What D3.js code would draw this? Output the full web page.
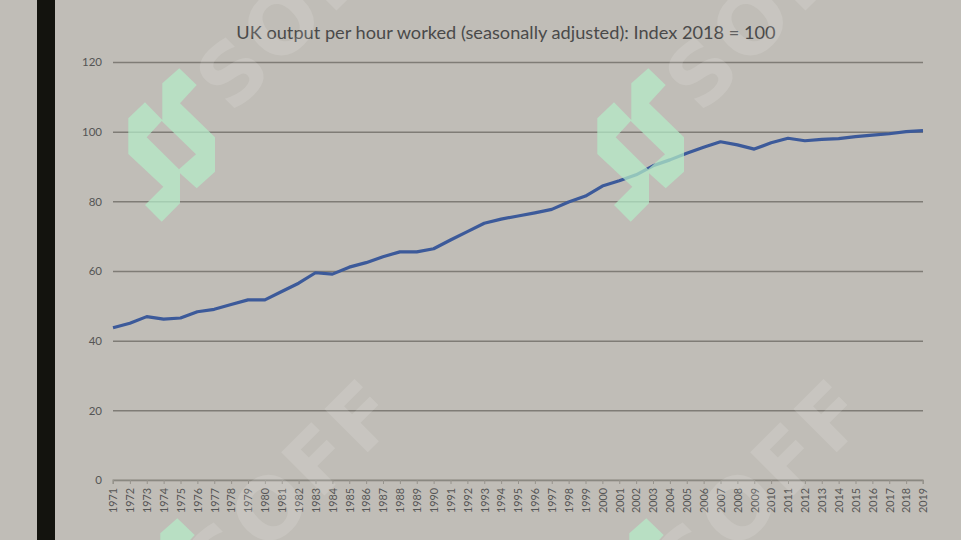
<!DOCTYPE html>
<html>
<head>
<meta charset="utf-8">
<script src="https://cdn.jsdelivr.net/npm/d3@7"></script>
<style>
  html, body { margin: 0; padding: 0; background: #c0bdb7; }
  svg { display: block; }
</style>
</head>
<body>
<svg id="chart" width="961" height="540"></svg>
<script>
const title = "UK output per hour worked (seasonally adjusted): Index 2018 = 100";
const years = [1971,1972,1973,1974,1975,1976,1977,1978,1979,1980,1981,1982,1983,1984,1985,1986,1987,1988,1989,1990,
  1991,1992,1993,1994,1995,1996,1997,1998,1999,2000,2001,2002,2003,2004,2005,2006,2007,2008,2009,2010,
  2011,2012,2013,2014,2015,2016,2017,2018,2019];
const outputIndex = [43.7,45.0,46.9,46.2,46.5,48.3,49.0,50.4,51.7,51.7,54.1,56.5,59.5,59.1,61.1,62.4,64.1,65.5,65.5,66.4,
  68.9,71.3,73.7,74.9,75.8,76.7,77.7,79.8,81.5,84.4,85.9,87.6,90.2,91.9,93.8,95.5,97.1,96.2,95.0,96.8,
  98.1,97.4,97.8,98.0,98.6,99.0,99.4,100.0,100.3];
const yTicks = [0,20,40,60,80,100,120];

const svg = d3.select("#chart");
const W = 961, H = 540;
const margin = {left: 113, right: 38, top: 62, bottom: 60};

svg.append("rect").attr("width", W).attr("height", H).attr("fill", "#c0bdb7");
svg.append("rect").attr("x", 37).attr("y", 0).attr("width", 18).attr("height", H).attr("fill", "#13130e");

const x = d3.scalePoint().domain(years).range([margin.left, W - margin.right]);
const y = d3.scaleLinear().domain([0, 120]).range([H - margin.bottom, margin.top]);

// gridlines + y labels
const yAxis = d3.axisLeft(y).tickValues(yTicks).tickSize(-(W - margin.right - margin.left)).tickPadding(11);
const gy = svg.append("g").attr("transform", `translate(${margin.left},0)`).call(yAxis);
gy.select(".domain").remove();
gy.selectAll(".tick line").attr("stroke", "#7f7c76").attr("stroke-width", 1.5);
gy.selectAll(".tick text").attr("fill", "#555").attr("font-family", "Lato, 'Open Sans', sans-serif").attr("font-size", 11.5);

// x axis
const xAxis = d3.axisBottom(x).tickSize(4).tickPadding(0);
const gx = svg.append("g").attr("transform", `translate(0,${y(0)})`).call(xAxis);
gx.select(".domain").attr("stroke", "#96938c").attr("stroke-width", 1.2).attr("d", `M${margin.left},4V0H${W - margin.right}V4`);
gx.selectAll(".tick line").attr("stroke", "#96938c");
gx.selectAll(".tick text")
  .attr("fill", "#555")
  .attr("font-family", "Lato, 'Open Sans', sans-serif")
  .attr("font-size", 10.8)
  .attr("text-anchor", "end")
  .attr("dy", "0.35em")
  .attr("transform", "translate(0,8) rotate(-90)")
  .attr("x", 0).attr("y", 0);

// line
const line = d3.line().x((d, i) => x(years[i])).y(d => y(d));
svg.append("path").datum(outputIndex)
  .attr("fill", "none").attr("stroke", "#3c5a9a").attr("stroke-width", 3.2)
  .attr("stroke-linejoin", "round").attr("d", line);

// title
svg.append("text").attr("x", 506).attr("y", 39).attr("text-anchor", "middle")
  .attr("font-family", "Lato, 'Open Sans', sans-serif").attr("font-size", 18.2)
  .attr("fill", "#4a4a4a").text(title);

// watermark (decorative)
const logoPath = "M179.3,68.3 L196.7,85 L180,103.3 L215,137.3 L215,171.7 L196.7,188.3 L180,173.3 L180,203.3 L161.7,221.7 L145,205 L163.3,186.7 L128.3,154 L128.3,118.3 L145,102.3 L162.3,120 L162.3,83.3 Z " +
  "M161.7,121 L146.7,137.3 L179,169.3 L196,154.3 Z";
const tiles = [[0,0,232,115],[469,0,232,115],[-2,450,222,150],[467,450,222,150]];
const wm = svg.append("g").attr("pointer-events", "none");
tiles.forEach(([dx, dy, tx, ty]) => {
  const g = wm.append("g").attr("transform", `translate(${dx},${dy})`);
  g.append("text").attr("transform", `translate(${tx},${ty}) rotate(-45)`)
    .attr("font-family", "'DejaVu Sans', sans-serif").attr("font-weight", "bold")
    .attr("font-size", 84).attr("fill", "#ffffff").attr("fill-opacity", 0.13)
    .attr("letter-spacing", 4).text("SOFF");
  g.append("path").attr("d", logoPath).attr("fill-rule", "evenodd")
    .attr("fill", "#b4ecc8").attr("fill-opacity", 0.72);
});
</script>
</body>
</html>
